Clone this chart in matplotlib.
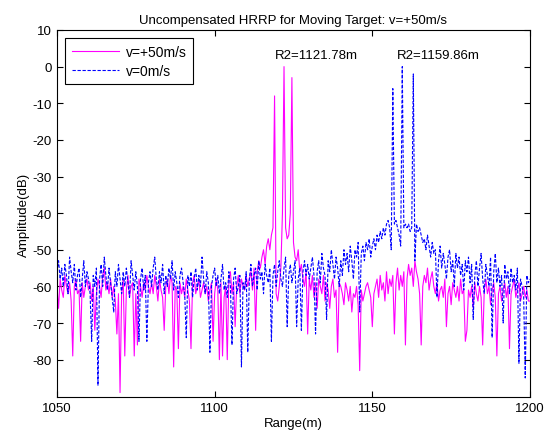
import numpy as np
import matplotlib
import matplotlib.pyplot as plt

matplotlib.use('Agg')
plt.rcParams['font.family'] = ['Liberation Sans', 'DejaVu Sans']
plt.rcParams['axes.unicode_minus'] = False

# range axis samples (m), 0.5 m spacing
range_m = np.arange(1050, 1200.25, 0.5)

# v=+50m/s profile (dB) in 10 m blocks
amp_moving = [
    -60, -66, -58, -61, -63, -57, -60, -62, -59, -64, -79, -60, -58, -62, -61, -75, -59, -63, -60, -58,
    -61, -59, -64, -60, -72, -62, -58, -60, -63, -57, -55, -61, -59, -62, -58, -63, -60, -64, -73, -62,
    -89, -62, -58, -79, -61, -57, -63, -60, -59, -79, -62, -76, -58, -60, -63, -59, -61, -57, -60, -62,
    -59, -62, -57, -60, -64, -58, -61, -63, -72, -60, -58, -62, -57, -59, -82, -60, -61, -77, -59, -62,
    -60, -63, -58, -61, -64, -77, -59, -57, -62, -60, -58, -63, -61, -59, -62, -60, -64, -61, -59, -75,
    -62, -58, -61, -80, -59, -79, -63, -60, -80, -58, -56, -62, -59, -71, -60, -57, -62, -58, -60, -61,
    -57, -60, -58, -56, -61, -55, -72, -56, -53, -55, -52, -50, -54, -49, -47, -50, -46, -44, -8, -62,
    -64, -60, -55, -40, 0, -44, -47, -46, -40, -3, -48, -52, -53, -50, -56, -54, -58, -60, -56, -73,
    -58, -61, -57, -63, -59, -66, -58, -60, -62, -57, -64, -59, -61, -66, -60, -58, -63, -61, -78, -59,
    -60, -62, -65, -59, -61, -64, -60, -67, -62, -63, -60, -65, -83, -61, -64, -62, -60, -59, -61, -63,
    -71, -62, -60, -58, -63, -57, -61, -59, -64, -56, -62, -58, -60, -57, -73, -59, -55, -61, -57, -60,
    -56, -76, -58, -54, -57, -55, -60, -53, -56, -58, -62, -76, -60, -57, -59, -55, -61, -58, -56, -60,
    -62, -59, -64, -61, -60, -63, -58, -71, -62, -60, -65, -59, -61, -63, -60, -64, -58, -62, -61, -75,
    -72, -61, -63, -60, -66, -59, -62, -64, -60, -63, -76, -61, -58, -62, -60, -65, -61, -59, -63, -79,
    -62, -60, -64, -61, -59, -63, -60, -77, -62, -60, -58, -63, -61, -59, -64, -62, -60, -63, -61, -64,
    -64,
]

# v=0m/s profile (dB)
amp_static = [
    -56, -53, -58, -55, -60, -54, -57, -62, -52, -56, -59, -54, -61, -57, -55, -63, -58, -53, -60, -56,
    -58, -62, -75, -57, -60, -55, -87, -58, -54, -60, -52, -57, -61, -55, -59, -63, -67, -56, -60, -54,
    -58, -62, -56, -60, -55, -59, -63, -53, -57, -61, -56, -60, -75, -58, -55, -61, -57, -75, -59, -56,
    -60, -55, -52, -58, -61, -56, -59, -54, -62, -57, -60, -55, -58, -53, -61, -56, -59, -63, -57, -55,
    -59, -62, -74, -57, -60, -56, -63, -58, -55, -61, -57, -60, -52, -58, -62, -56, -59, -78, -60, -57,
    -55, -60, -57, -62, -58, -54, -61, -59, -63, -56, -60, -76, -58, -55, -62, -60, -57, -82, -59, -61,
    -56, -78, -58, -54, -60, -57, -55, -61, -53, -58, -56, -62, -54, -57, -59, -55, -75, -57, -54, -60,
    -56, -53, -58, -60, -55, -52, -71, -57, -54, -59, -56, -53, -71, -58, -55, -72, -56, -53, -57, -54,
    -58, -55, -52, -57, -73, -56, -53, -59, -51, -55, -57, -69, -53, -56, -50, -54, -58, -52, -55, -60,
    -53, -57, -50, -54, -51, -56, -49, -53, -58, -50, -52, -48, -67, -51, -49, -53, -48, -50, -47, -52,
    -49, -47, -50, -46, -48, -45, -47, -44, -46, -43, -42, -44, -50, -6, -43, -42, -44, -46, -49, 0,
    -44, -43, -44, -43, -45, -44, -2, -53, -43, -45, -44, -46, -48, -47, -50, -46, -49, -52, -48, -51,
    -50, -63, -53, -49, -55, -51, -54, -58, -52, -50, -56, -53, -60, -51, -55, -52, -57, -54, -61, -53,
    -56, -52, -59, -54, -69, -57, -53, -60, -55, -51, -58, -62, -54, -57, -60, -52, -74, -56, -51, -59,
    -55, -60, -57, -70, -54, -58, -56, -62, -55, -59, -57, -61, -55, -81, -58, -60, -63, -85, -57, -59,
    -58,
]

fig = plt.figure(figsize=(5.5, 4.39), dpi=100)
ax = fig.add_axes([0.1036, 0.0934, 0.86, 0.836])

ax.plot(range_m, amp_moving, color='#ff00ff', linewidth=0.8, label='v=+50m/s')
ax.plot(range_m, amp_static, color='#0000ff', linewidth=0.8, linestyle=(0, (3, 1.5)),
        label='v=0m/s')

ax.text(1119.1, 3.2, 'R2=1121.78m', fontsize=9.5, ha='left', va='center')
ax.text(1157.8, 3.2, 'R2=1159.86m', fontsize=9.5, ha='left', va='center')

ax.set_xlim(1050, 1200)
ax.set_ylim(-90.2, 10)
ax.set_xticks([1050, 1100, 1150, 1200])
ax.set_yticks(np.arange(-80, 11, 10))
ax.tick_params(direction='in', top=True, right=True, length=4, labelsize=9.5)
ax.set_title('Uncompensated HRRP for Moving Target: v=+50m/s', fontsize=9.5, pad=5)
ax.set_xlabel('Range(m)', fontsize=9.5, labelpad=2)
ax.set_ylabel('Amplitude(dB)', fontsize=9.5, labelpad=2)

leg = ax.legend(loc='upper left', fontsize=10, fancybox=False, framealpha=1,
                edgecolor='black', borderaxespad=0.6, handlelength=3.4,
                handletextpad=0.5, labelspacing=0.4, borderpad=0.45)
leg.get_frame().set_linewidth(0.8)

fig.savefig('out.png', dpi=100)
